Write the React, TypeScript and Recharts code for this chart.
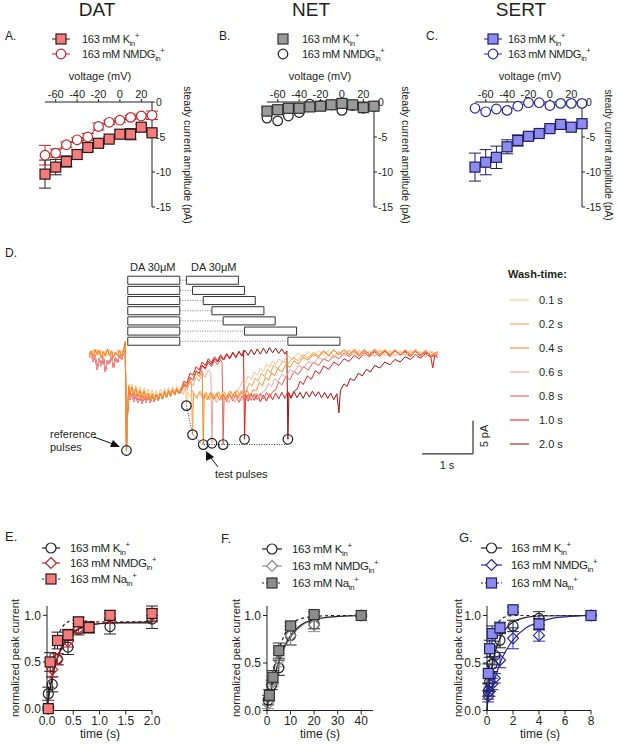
import {
  ComposedChart,
  ErrorBar,
  Line,
  ReferenceArea,
  ReferenceLine,
  Scatter,
  XAxis,
  YAxis,
} from 'recharts'

const FONT = '"Liberation Sans", Arial, Helvetica, sans-serif'
const INK = '#231f20'

// ---------- A–C: steady current vs voltage ----------
const voltages = [-70, -60, -50, -40, -30, -20, -10, 0, 10, 20, 30]
const voltageTicks = [-60, -40, -20, 0, 20]
const currentTicks = [-15, -10, -5, 0]

const datK = [-10.3, -9.3, -8.5, -7.5, -6.5, -5.9, -5.3, -4.6, -4.6, -3.6, -4.4]
const datKErr = [2.0, 1.1, 0.8, 0.7, 0.6, 0.4, 0.3, 0.5, 0.8, 0.4, 0.3]
const datNmdg = [-7.6, -7.3, -6.1, -5.4, -5.0, -3.5, -2.9, -2.6, -2.2, -2.0, -1.9]
const datNmdgErr = [1.4, 0.6, 0.4, 0.3, 0.5, 0.5, 0.3, 0.3, 0.3, 0.3, 0.6]

const netK = [-1.3, -1.1, -0.9, -0.9, -0.7, -0.6, -0.4, -0.2, -0.4, -0.8, -0.6]
const netKErr = [0.5, 0.4, 0.3, 0.3, 0.2, 0.2, 0.2, 0.2, 0.3, 0.4, 0.3]
const netNmdg = [-2.3, -2.7, -2.0, -1.5, -0.3, -0.5, -0.4, -1.2, -0.5, -0.9, -0.6]

const sertK = [-9.3, -8.6, -7.9, -6.4, -5.5, -4.9, -4.5, -3.8, -3.2, -3.6, -3.1]
const sertKErr = [2.0, 1.8, 1.6, 1.0, 0.8, 0.5, 0.3, 0.3, 0.4, 0.3, 0.2]
const sertNmdg = [-0.9, -1.4, -1.0, -1.2, -0.6, -0.1, -0.1, -0.5, -0.2, -0.2, -0.2]

// ---------- D: wash-time traces ----------
const washTimes = [0.1, 0.2, 0.4, 0.6, 0.8, 1.0, 2.0]
const washColors = ['#fcc38c', '#f9a04b', '#f7861f', '#f5a0a0', '#f0584d', '#e31a1c', '#9e0f0f']
const testStartS = [1.91, 2.03, 2.24, 2.41, 2.63, 3.05, 3.9]
const testPeakPA = [-7.9, -12.3, -13.8, -13.6, -13.8, -13.0, -13.0]
const refPulse = { t: 0.735, v: -14.7 }
const firstPulseS = [0.76, 1.78]
const pulseLengthS = 1.02

const preOrange = [
  [0, -0.3], [0.04, 0.4], [0.08, -0.5], [0.12, 0.6], [0.16, -0.2], [0.2, 0.5], [0.24, -0.7], [0.28, 0.3],
  [0.32, -0.4], [0.36, 0.7], [0.4, -0.3], [0.44, 0.4], [0.48, -0.6], [0.52, 0.2], [0.56, -0.3], [0.6, 0.5],
  [0.64, -0.4], [0.68, 0.6], [0.71, 1.8], [0.735, -14.8], [0.75, -9.5], [0.78, -5.0], [0.8, -6.3], [0.84, -5.1],
  [0.88, -6.4], [0.92, -5.3], [0.96, -6.6], [1.0, -5.6], [1.04, -6.8], [1.08, -5.7], [1.12, -6.9], [1.16, -6.0],
  [1.2, -7.0], [1.24, -6.1], [1.28, -7.2], [1.32, -6.2], [1.36, -7.0], [1.4, -6.0], [1.44, -6.9], [1.48, -5.9],
  [1.52, -6.7], [1.56, -5.7], [1.6, -6.5], [1.64, -5.5], [1.68, -6.3], [1.72, -5.4], [1.76, -6.1],
]
const prePeach = [
  [0, 0.2], [0.04, -0.5], [0.08, 0.6], [0.12, -0.2], [0.16, 0.7], [0.2, -0.4], [0.24, 0.5], [0.28, -0.6],
  [0.32, 0.4], [0.36, -0.3], [0.4, 0.6], [0.44, -0.5], [0.48, 0.3], [0.52, -0.4], [0.56, 0.6], [0.6, -0.2],
  [0.64, 0.5], [0.68, -0.1], [0.71, 1.6], [0.735, -14.7], [0.75, -9.0], [0.78, -4.6], [0.8, -5.8], [0.84, -4.6],
  [0.88, -5.9], [0.92, -4.8], [0.96, -6.1], [1.0, -5.0], [1.04, -6.3], [1.08, -5.2], [1.12, -6.4], [1.16, -5.4],
  [1.2, -6.5], [1.24, -5.5], [1.28, -6.6], [1.32, -5.6], [1.36, -6.5], [1.4, -5.4], [1.44, -6.4], [1.48, -5.3],
  [1.52, -6.2], [1.56, -5.1], [1.6, -6.0], [1.64, -5.0], [1.68, -5.8], [1.72, -4.9], [1.76, -5.7],
]
const preRed = [
  [0, -0.6], [0.04, 0.2], [0.08, -1.2], [0.12, -0.3], [0.16, -2.4], [0.2, -0.8], [0.24, -1.9], [0.28, -0.4],
  [0.32, -2.8], [0.36, -1.0], [0.4, -1.6], [0.44, -0.2], [0.48, -2.2], [0.52, -0.6], [0.56, -1.4], [0.6, -0.1],
  [0.64, -0.9], [0.68, 0.3], [0.71, 1.2], [0.735, -14.6], [0.75, -10.0], [0.78, -5.8], [0.8, -7.0], [0.84, -6.0],
  [0.88, -7.3], [0.92, -6.2], [0.96, -7.5], [1.0, -6.4], [1.04, -7.6], [1.08, -6.5], [1.12, -7.4], [1.16, -6.3],
  [1.2, -7.5], [1.24, -6.4], [1.28, -7.3], [1.32, -6.2], [1.36, -7.1], [1.4, -6.0], [1.44, -6.9], [1.48, -5.8],
  [1.52, -6.6], [1.56, -5.6], [1.6, -6.4], [1.64, -5.4], [1.68, -6.2], [1.72, -5.3], [1.76, -6.0],
]

const post01 = [
  [1.8, -5.6], [1.85, -6.2], [1.89, -5.0], [1.91, -7.9], [1.93, -5.8], [1.98, -6.6], [2.04, -5.6], [2.1, -6.7],
  [2.16, -5.8], [2.22, -6.8], [2.28, -5.9], [2.34, -6.9], [2.4, -6.0], [2.46, -6.8], [2.52, -5.8], [2.58, -6.7],
  [2.64, -5.7], [2.7, -6.6], [2.76, -5.6], [2.82, -6.4], [2.88, -5.6], [2.94, -5.4], [3.0, -4.3], [3.06, -4.6],
  [3.12, -3.4], [3.18, -3.9], [3.24, -2.8], [3.3, -3.3], [3.36, -2.2], [3.42, -2.7], [3.48, -1.6], [3.54, -2.1],
  [3.6, -1.1], [3.66, -1.7], [3.72, -0.8], [3.8, -1.3], [3.9, -0.3], [4.0, -0.9], [4.1, 0.1], [4.2, -0.6],
  [4.3, 0.3], [4.4, -0.5], [4.5, 0.4], [4.6, -0.3], [4.7, 0.5], [4.8, -0.4], [4.9, 0.4], [5.0, -0.3],
  [5.1, 0.6], [5.2, -0.2], [5.3, 0.5], [5.4, -0.4], [5.5, 0.4], [5.6, -0.3], [5.7, 0.6], [5.8, -0.2],
  [5.9, 0.5], [6.0, -0.4], [6.1, 0.4], [6.2, -0.3], [6.3, 0.5], [6.4, -0.4], [6.5, 0.3], [6.6, -0.5],
  [6.7, 0.4], [6.84, -0.2],
]
const post02 = [
  [1.8, -5.4], [1.86, -4.6], [1.92, -5.2], [1.98, -3.9], [2.01, -4.6], [2.03, -12.3], [2.05, -6.0], [2.12, -6.8],
  [2.18, -5.7], [2.24, -6.9], [2.3, -5.9], [2.36, -7.0], [2.42, -6.0], [2.48, -6.9], [2.54, -5.8], [2.6, -6.8],
  [2.66, -5.9], [2.72, -6.7], [2.78, -5.7], [2.84, -6.6], [2.9, -5.6], [2.96, -6.4], [3.02, -5.5], [3.08, -5.8],
  [3.14, -4.5], [3.2, -4.9], [3.26, -3.7], [3.32, -4.2], [3.38, -3.0], [3.44, -3.5], [3.5, -2.4], [3.56, -2.9],
  [3.62, -1.8], [3.7, -2.3], [3.8, -1.2], [3.9, -1.6], [4.0, -0.6], [4.1, -1.1], [4.2, -0.2], [4.3, -0.7],
  [4.4, 0.2], [4.5, -0.4], [4.6, 0.5], [4.7, -0.3], [4.8, 0.6], [4.9, -0.2], [5.0, 0.5], [5.1, -0.3],
  [5.2, 0.7], [5.3, -0.1], [5.4, 0.6], [5.5, -0.2], [5.6, 0.5], [5.7, -0.3], [5.8, 0.6], [5.9, -0.1],
  [6.0, 0.5], [6.1, -0.2], [6.2, 0.6], [6.3, -0.3], [6.4, 0.5], [6.5, -0.2], [6.6, 0.4], [6.7, -0.3],
  [6.84, 0.2],
]
const post04 = [
  [1.8, -5.3], [1.86, -4.4], [1.92, -4.9], [1.98, -3.6], [2.04, -4.1], [2.1, -2.9], [2.16, -3.5], [2.22, -2.6],
  [2.24, -13.8], [2.26, -6.2], [2.32, -7.0], [2.38, -5.9], [2.44, -6.9], [2.5, -6.0], [2.56, -7.1], [2.62, -6.1],
  [2.68, -7.0], [2.74, -6.0], [2.8, -6.8], [2.86, -5.8], [2.92, -6.7], [2.98, -5.7], [3.04, -6.6], [3.1, -5.6],
  [3.16, -6.4], [3.22, -5.5], [3.28, -5.6], [3.34, -4.4], [3.4, -4.9], [3.46, -3.6], [3.52, -4.1], [3.58, -2.9],
  [3.64, -3.4], [3.7, -2.3], [3.78, -2.8], [3.86, -1.7], [3.94, -2.1], [4.02, -1.1], [4.1, -1.6], [4.2, -0.6],
  [4.3, -1.0], [4.4, -0.1], [4.5, -0.6], [4.6, 0.3], [4.7, -0.3], [4.8, 0.5], [4.9, -0.2], [5.0, 0.6],
  [5.1, -0.1], [5.2, 0.5], [5.3, -0.3], [5.4, 0.6], [5.5, -0.2], [5.6, 0.7], [5.7, -0.1], [5.8, 0.5],
  [5.9, -0.3], [6.0, 0.6], [6.1, -0.2], [6.2, 0.5], [6.3, -0.1], [6.4, 0.6], [6.5, -0.2], [6.6, 0.5],
  [6.7, -0.3], [6.84, 0.3],
]
const post06 = [
  [1.8, -6.0], [1.86, -5.0], [1.92, -5.6], [1.98, -4.3], [2.04, -4.9], [2.1, -3.6], [2.16, -4.2], [2.22, -3.0],
  [2.28, -3.6], [2.34, -2.5], [2.39, -3.0], [2.41, -13.6], [2.43, -6.5], [2.5, -7.4], [2.56, -6.3], [2.62, -7.3],
  [2.68, -6.4], [2.74, -7.5], [2.8, -6.5], [2.86, -7.4], [2.92, -6.3], [2.98, -7.2], [3.04, -6.2], [3.1, -7.1],
  [3.16, -6.1], [3.22, -6.9], [3.28, -6.0], [3.34, -6.8], [3.4, -5.9], [3.46, -5.6], [3.52, -4.5], [3.58, -5.0],
  [3.64, -3.8], [3.7, -4.3], [3.78, -3.1], [3.86, -3.6], [3.94, -2.4], [4.02, -2.9], [4.1, -1.8], [4.2, -2.2],
  [4.3, -1.2], [4.4, -1.6], [4.5, -0.6], [4.6, -1.0], [4.7, -0.2], [4.8, -0.7], [4.9, 0.2], [5.0, -0.4],
  [5.1, 0.4], [5.2, -0.3], [5.3, 0.5], [5.4, -0.4], [5.5, 0.3], [5.6, -0.5], [5.7, 0.4], [5.8, -0.3],
  [5.9, 0.5], [6.0, -0.4], [6.1, 0.3], [6.2, -0.5], [6.3, 0.4], [6.4, -0.3], [6.5, 0.3], [6.6, -0.6],
  [6.7, 0.2], [6.84, -0.4],
]
const post08 = [
  [1.8, -5.8], [1.86, -4.6], [1.92, -5.0], [1.98, -3.6], [2.04, -4.0], [2.1, -2.6], [2.16, -3.1], [2.22, -1.9],
  [2.28, -2.4], [2.34, -1.4], [2.4, -2.0], [2.46, -1.1], [2.52, -1.7], [2.58, -0.9], [2.61, -1.4], [2.63, -13.8],
  [2.65, -6.4], [2.7, -7.3], [2.76, -6.2], [2.82, -7.2], [2.88, -6.3], [2.94, -7.4], [3.0, -6.4], [3.06, -7.3],
  [3.12, -6.2], [3.18, -7.1], [3.24, -6.1], [3.3, -7.0], [3.36, -6.0], [3.42, -6.9], [3.48, -5.9], [3.54, -6.7],
  [3.6, -5.8], [3.66, -5.5], [3.72, -4.3], [3.78, -4.8], [3.86, -3.5], [3.94, -4.0], [4.02, -2.7], [4.1, -3.2],
  [4.2, -2.0], [4.3, -2.5], [4.4, -1.3], [4.5, -1.8], [4.6, -0.8], [4.7, -1.2], [4.8, -0.3], [4.9, -0.8],
  [5.0, 0.1], [5.1, -0.5], [5.2, 0.3], [5.3, -0.4], [5.4, 0.4], [5.5, -0.3], [5.6, 0.5], [5.7, -0.4],
  [5.8, 0.3], [5.9, -0.5], [6.0, 0.4], [6.1, -0.3], [6.2, 0.2], [6.3, -0.5], [6.4, 0.3], [6.5, -0.4],
  [6.6, 0.2], [6.7, -0.5], [6.84, -0.1],
]
const post10 = [
  [1.8, -5.6], [1.86, -4.2], [1.92, -4.5], [1.98, -3.0], [2.04, -3.3], [2.1, -2.0], [2.16, -2.5], [2.22, -1.3],
  [2.28, -1.8], [2.34, -0.8], [2.4, -1.4], [2.46, -0.5], [2.52, -1.1], [2.58, -0.2], [2.64, -0.9], [2.7, 0.0],
  [2.76, -0.7], [2.82, 0.2], [2.88, -0.6], [2.94, 0.3], [3.0, -0.4], [3.03, 0.5], [3.05, -13.0], [3.07, -6.2],
  [3.12, -7.2], [3.18, -6.1], [3.24, -7.1], [3.3, -6.2], [3.36, -7.3], [3.42, -6.3], [3.48, -7.2], [3.54, -6.1],
  [3.6, -7.0], [3.66, -6.0], [3.72, -6.9], [3.78, -5.9], [3.84, -6.8], [3.9, -5.8], [3.96, -6.6], [4.02, -5.7],
  [4.08, -5.4], [4.14, -4.2], [4.2, -4.7], [4.28, -3.4], [4.36, -3.9], [4.44, -2.6], [4.52, -3.1], [4.6, -1.9],
  [4.7, -2.4], [4.8, -1.3], [4.9, -1.8], [5.0, -0.8], [5.1, -1.2], [5.2, -0.3], [5.3, -0.8], [5.4, 0.1],
  [5.5, -0.5], [5.6, 0.3], [5.7, -0.4], [5.8, 0.4], [5.9, -0.3], [6.0, 0.5], [6.1, -0.2], [6.2, 0.4],
  [6.3, -0.4], [6.4, 0.3], [6.5, -0.3], [6.6, 0.2], [6.7, -0.4], [6.74, -2.2], [6.78, -0.3], [6.84, -0.6],
]
const post20 = [
  [1.8, -5.9], [1.86, -4.8], [1.92, -5.1], [1.98, -3.7], [2.04, -4.0], [2.1, -2.7], [2.16, -3.0], [2.22, -1.8],
  [2.28, -2.2], [2.34, -1.2], [2.4, -1.7], [2.46, -0.8], [2.52, -1.3], [2.58, -0.5], [2.64, -1.0], [2.7, -0.2],
  [2.76, -0.8], [2.82, 0.1], [2.88, -0.6], [2.94, 0.3], [3.0, -0.4], [3.06, 0.5], [3.12, -0.3], [3.18, 0.6],
  [3.24, -0.2], [3.3, 0.7], [3.36, -0.1], [3.42, 0.8], [3.48, 0.0], [3.54, 0.9], [3.6, 0.1], [3.66, 0.8],
  [3.72, 0.0], [3.78, 0.7], [3.84, -0.1], [3.88, 0.4], [3.9, -13.0], [3.92, -6.0], [3.96, -6.8], [4.02, -5.8],
  [4.08, -6.7], [4.14, -5.9], [4.2, -6.8], [4.26, -5.8], [4.32, -6.6], [4.38, -5.7], [4.44, -6.5], [4.5, -5.8],
  [4.56, -6.7], [4.62, -5.9], [4.68, -6.8], [4.74, -6.0], [4.8, -7.0], [4.86, -6.1], [4.9, -9.0], [4.93, -5.6],
  [5.0, -4.6], [5.06, -5.0], [5.12, -3.8], [5.2, -4.1], [5.28, -3.0], [5.36, -3.4], [5.44, -2.4], [5.52, -2.8],
  [5.6, -1.8], [5.7, -2.2], [5.8, -1.3], [5.9, -1.7], [6.0, -0.9], [6.1, -1.3], [6.2, -0.5], [6.3, -0.9],
  [6.4, -0.2], [6.5, -0.7], [6.6, 0.0], [6.7, -0.5], [6.84, -0.1],
]

const traces = [
  [...prePeach, ...post01],
  [...preOrange, ...post02],
  [...preOrange, ...post04],
  [...preRed, ...post06],
  [...preRed, ...post08],
  [...preRed, ...post10],
  [...preRed, ...post20],
]
// orange traces lie on top in the original
const drawOrder = [6, 5, 4, 3, 0, 1, 2]

// ---------- E–G: recovery of peak current ----------
const eK = { t: [0.025, 0.1, 0.2, 0.4, 0.6, 0.8, 1.2, 2.0], v: [0.16, 0.26, 0.53, 0.66, 0.85, 0.87, 0.88, 0.96], e: [0.07, 0.08, 0.06, 0.08, 0.06, 0.05, 0.08, 0.1] }
const eNmdg = { t: [0.025, 0.1, 0.2, 0.4, 0.6, 0.8, 1.2, 2.0], v: [0.0, 0.42, 0.53, 0.72, 0.86, 0.87, 0.97, 1.0], e: [0.02, 0.08, 0.06, 0.06, 0.05, 0.05, 0.05, 0.07] }
const eNa = { t: [0.025, 0.06, 0.2, 0.4, 0.6, 0.8, 1.2, 2.0], v: [0.0, 0.5, 0.73, 0.79, 0.93, 0.87, 1.0, 1.02], e: [0.02, 0.1, 0.09, 0.06, 0.05, 0.06, 0.05, 0.08] }
const eFitK = [[0, 0], [0.05, 0.18], [0.1, 0.33], [0.2, 0.54], [0.3, 0.67], [0.4, 0.76], [0.6, 0.85], [0.8, 0.89], [1.0, 0.91], [1.4, 0.92], [2.0, 0.92]]
const eFitNmdg = [[0, 0], [0.1, 0.36], [0.2, 0.56], [0.3, 0.69], [0.4, 0.77], [0.6, 0.86], [0.8, 0.9], [1.2, 0.92], [2.0, 0.93]]
const eFitNa = [[0, 0], [0.1, 0.52], [0.2, 0.76], [0.3, 0.88], [0.4, 0.93], [0.5, 0.95], [0.7, 0.94], [1.0, 0.93], [2.0, 0.93]]

const fK = { t: [0.5, 2, 5, 10, 20, 40], v: [0.11, 0.27, 0.45, 0.79, 0.91, 1.0], e: [0.05, 0.05, 0.08, 0.1, 0.05, 0.01] }
const fNmdg = { t: [0.5, 2.5, 5, 10, 20, 40], v: [0.07, 0.3, 0.53, 0.79, 0.9, 1.0], e: [0.05, 0.05, 0.07, 0.1, 0.07, 0.0] }
const fNa = { t: [1, 2.5, 5, 10, 20, 40], v: [0.16, 0.35, 0.63, 0.89, 1.01, 1.0], e: [0.06, 0.07, 0.08, 0.04, 0.03, 0.0] }
const fFitK = [[0, 0], [2.5, 0.3], [5, 0.52], [7.5, 0.68], [10, 0.79], [15, 0.91], [20, 0.96], [30, 0.99], [40, 1.0]]
const fFitNmdg = [[0, 0], [2.5, 0.29], [5, 0.5], [7.5, 0.66], [10, 0.77], [15, 0.9], [20, 0.95], [30, 0.99], [40, 1.0]]
const fFitNa = [[0, 0], [2.5, 0.38], [5, 0.63], [7.5, 0.8], [10, 0.9], [15, 0.97], [20, 0.99], [30, 1.0], [40, 1.0]]

const gK = { t: [0.1, 0.2, 0.4, 0.6, 1, 2, 4, 8], v: [0.2, 0.3, 0.49, 0.58, 0.74, 0.89, 0.97, 1.0], e: [0.08, 0.1, 0.08, 0.1, 0.08, 0.06, 0.07, 0.0] }
const gNmdg = { t: [0.1, 0.2, 0.4, 0.6, 1, 2, 4, 8], v: [0.15, 0.2, 0.28, 0.34, 0.53, 0.76, 0.79, 1.0], e: [0.06, 0.05, 0.06, 0.05, 0.08, 0.11, 0.06, 0.0] }
const gNa = { t: [0.1, 0.2, 0.4, 1, 2, 4, 8], v: [0.39, 0.65, 0.81, 0.87, 1.06, 0.91, 1.0], e: [0.1, 0.09, 0.08, 0.06, 0.03, 0.06, 0.0] }
const gFitK = [[0, 0], [0.2, 0.3], [0.4, 0.48], [0.6, 0.6], [1, 0.76], [1.5, 0.87], [2, 0.93], [3, 0.98], [4, 0.995], [8, 1.0]]
const gFitNmdg = [[0.3, 0.2], [0.6, 0.33], [1, 0.5], [1.5, 0.64], [2, 0.74], [3, 0.87], [4, 0.93], [5, 0.97], [6, 0.985], [8, 1.0]]
const gFitNa = [[0, 0], [0.1, 0.3], [0.2, 0.5], [0.4, 0.74], [0.6, 0.86], [1, 0.95], [1.5, 0.99], [2, 1.0], [8, 1.0]]

const recoveryTicksY = [0, 0.5, 1]

type Pair = number[]
type Series = { t: number[]; v: number[]; e: number[] }

const pairsToRows = (pairs: Pair[]) => pairs.map(([t, v]) => ({ t, v }))
const seriesToRows = (s: Series) => s.t.map((t, i) => ({ t, v: s.v[i], e: s.e[i] }))

// ---------- marker shapes ----------
function square(fill: string, stroke: string, size = 10) {
  return (p: any) => (
    <rect key={`s${p.index ?? p.cx}`} x={p.cx - size / 2} y={p.cy - size / 2} width={size} height={size} fill={fill} stroke={stroke} strokeWidth={1.2} />
  )
}
function circle(fill: string, stroke: string, r = 4.8) {
  return (p: any) => <circle key={`c${p.index ?? p.cx}`} cx={p.cx} cy={p.cy} r={r} fill={fill} stroke={stroke} strokeWidth={1.2} />
}
function diamond(stroke: string, r = 5.5) {
  return (p: any) => (
    <polygon
      key={`d${p.index ?? p.cx}`}
      points={`${p.cx},${p.cy - r} ${p.cx + r},${p.cy} ${p.cx},${p.cy + r} ${p.cx - r},${p.cy}`}
      fill="none"
      stroke={stroke}
      strokeWidth={1.2}
    />
  )
}

// ---------- A–C ----------
type IVProps = {
  left: number
  k: number[]
  kErr: number[]
  n: number[]
  nErr?: number[]
  kFill: string
  kStroke: string
  nStroke: string
  nFill: string
  connect: boolean
}

function IVPanel(p: IVProps) {
  const rows = voltages.map((v, i) => ({ v, k: p.k[i], kErr: p.kErr[i], n: p.n[i], nErr: p.nErr ? p.nErr[i] : 0 }))
  return (
    <div style={{ position: 'absolute', left: p.left - 10, top: 102 - 20 }}>
      <ComposedChart width={147} height={135} data={rows} margin={{ top: 0, right: 0, bottom: 10, left: 10 }}>
        <XAxis
          dataKey="v"
          type="number"
          orientation="top"
          domain={[-70, 30]}
          ticks={voltageTicks}
          interval={0}
          height={20}
          tickSize={3}
          tickMargin={1}
          tick={{ fontSize: 11, fill: INK }}
          stroke={INK}
        />
        <YAxis
          type="number"
          orientation="right"
          domain={[-15, 0]}
          ticks={currentTicks}
          interval={0}
          width={30}
          tickSize={3}
          tickMargin={1}
          tick={{ fontSize: 10.5, fill: INK }}
          stroke={INK}
        />
        <Line
          dataKey="n"
          stroke={p.connect ? p.nStroke : 'none'}
          strokeWidth={1}
          dot={circle(p.nFill, p.nStroke)}
          isAnimationActive={false}
        >
          {p.nErr && <ErrorBar dataKey="nErr" direction="y" width={6} stroke={p.nStroke} strokeWidth={1} />}
        </Line>
        <Line
          dataKey="k"
          stroke={p.connect ? p.kStroke : 'none'}
          strokeWidth={1}
          dot={square(p.kFill, p.kStroke)}
          isAnimationActive={false}
        >
          <ErrorBar dataKey="kErr" direction="y" width={6} stroke={p.kStroke} strokeWidth={1} />
        </Line>
      </ComposedChart>
    </div>
  )
}

// ---------- D ----------
const rowTopPA = 11.1
const rowStepPA = 1.54
const rowHeightPA = 1.22

function TracePanel() {
  const peakRows = testStartS.map((t, i) => ({ t, v: testPeakPA[i] }))
  const connector = [...peakRows.slice(0, 3), { t: testStartS[6], v: testPeakPA[2] }]
  return (
    <div style={{ position: 'absolute', left: 79, top: 260.5 }}>
      <ComposedChart width={407.6} height={208.1} margin={{ top: 10, right: 10, bottom: 10, left: 10 }}>
        <XAxis dataKey="t" type="number" domain={[0, 7.6]} allowDataOverflow hide />
        <YAxis type="number" domain={[-16, 12.5]} allowDataOverflow hide />
        {washTimes.map((w, i) => {
          const yc = rowTopPA - i * rowStepPA
          return [
            <ReferenceArea
              key={`l${w}`}
              x1={firstPulseS[0]}
              x2={firstPulseS[1]}
              y1={yc - rowHeightPA / 2}
              y2={yc + rowHeightPA / 2}
              fill="#fff"
              fillOpacity={1}
              stroke="#333"
              strokeWidth={1}
            />,
            <ReferenceLine
              key={`g${w}`}
              segment={[
                { x: firstPulseS[1], y: yc },
                { x: testStartS[i], y: yc },
              ]}
              stroke="#777"
              strokeDasharray="1 1.5"
            />,
            <ReferenceArea
              key={`r${w}`}
              x1={testStartS[i]}
              x2={testStartS[i] + pulseLengthS}
              y1={yc - rowHeightPA / 2}
              y2={yc + rowHeightPA / 2}
              fill="#fff"
              fillOpacity={1}
              stroke="#333"
              strokeWidth={1}
            />,
          ]
        })}
        {drawOrder.map((i) => (
          <Line
            key={washTimes[i]}
            data={pairsToRows(traces[i])}
            dataKey="v"
            stroke={washColors[i]}
            strokeWidth={1}
            dot={false}
            type="linear"
            isAnimationActive={false}
          />
        ))}
        <Line
          data={connector}
          dataKey="v"
          stroke="#333"
          strokeWidth={1}
          strokeDasharray="1 1.5"
          dot={false}
          type="linear"
          isAnimationActive={false}
        />
        <Scatter data={[refPulse, ...peakRows]} dataKey="v" shape={circle('none', '#222', 4.8)} isAnimationActive={false} />
        <ReferenceLine
          segment={[
            { x: 6.53, y: -15.2 },
            { x: 7.53, y: -15.2 },
          ]}
          stroke="#333"
          strokeWidth={1.2}
        />
        <ReferenceLine
          segment={[
            { x: 7.53, y: -15.2 },
            { x: 7.53, y: -10.2 },
          ]}
          stroke="#333"
          strokeWidth={1.2}
        />
      </ComposedChart>
    </div>
  )
}

// ---------- E–G ----------
type Fit = { pairs: Pair[]; stroke: string; dash?: string }
type RecoveryProps = {
  left: number
  width: number
  domain: [number, number]
  ticks: number[]
  fmt: (v: number) => string
  k: Series
  n: Series
  na: Series
  fits: Fit[]
  nColor: string
  naFill: string
  naStroke: string
}

function RecoveryPanel(p: RecoveryProps) {
  return (
    <div style={{ position: 'absolute', left: p.left - 35, top: 595.5 }}>
      <ComposedChart width={35 + p.width + 10} height={144.5} margin={{ top: 10, right: 10, bottom: 0, left: 0 }}>
        <XAxis
          dataKey="t"
          type="number"
          domain={p.domain}
          ticks={p.ticks}
          interval={0}
          tickFormatter={p.fmt}
          height={30}
          tickSize={4}
          tickMargin={2}
          tick={{ fontSize: 12, fill: INK }}
          stroke={INK}
        />
        <YAxis
          type="number"
          domain={[0, 1.1]}
          ticks={recoveryTicksY}
          interval={0}
          tickFormatter={(v: number) => v.toFixed(1)}
          width={35}
          tickSize={4}
          tickMargin={2}
          tick={{ fontSize: 12, fill: INK }}
          stroke={INK}
        />
        {p.fits.map((f, i) => (
          <Line
            key={i}
            data={pairsToRows(f.pairs)}
            dataKey="v"
            type="monotone"
            stroke={f.stroke}
            strokeWidth={1.2}
            strokeDasharray={f.dash}
            dot={false}
            isAnimationActive={false}
          />
        ))}
        <Scatter data={seriesToRows(p.k)} dataKey="v" shape={circle('none', '#222', 5)} isAnimationActive={false}>
          <ErrorBar dataKey="e" direction="y" width={6} stroke="#222" strokeWidth={1} />
        </Scatter>
        <Scatter data={seriesToRows(p.n)} dataKey="v" shape={diamond(p.nColor)} isAnimationActive={false}>
          <ErrorBar dataKey="e" direction="y" width={6} stroke={p.nColor} strokeWidth={1} />
        </Scatter>
        <Scatter data={seriesToRows(p.na)} dataKey="v" shape={square(p.naFill, p.naStroke)} isAnimationActive={false}>
          <ErrorBar dataKey="e" direction="y" width={6} stroke={p.naStroke} strokeWidth={1} />
        </Scatter>
      </ComposedChart>
    </div>
  )
}

// ---------- overlay text ----------
function Ion({ x, y, ion, size = 11 }: { x: number; y: number; ion: string; size?: number }) {
  return (
    <text x={x} y={y} fontSize={size} fill={INK} letterSpacing={-0.3}>
      163 mM {ion}
      <tspan fontSize={size * 0.68} dy={size * 0.25}>
        in
      </tspan>
      <tspan fontSize={size * 0.68} dy={-size * 0.72}>
        +
      </tspan>
    </text>
  )
}

function Overlay() {
  const ivLegend = [
    { sym: 61, text: 82, line: true, kFill: '#f47c7c', kStroke: '#2a1a1a', n: '#c1272d', nFill: '#fff' },
    { sym: 283, text: 302, line: false, kFill: '#9a9a9a', kStroke: '#333', n: '#222', nFill: '#fff' },
    { sym: 493, text: 508, line: true, kFill: '#8c8cf0', kStroke: '#1f1f5f', n: '#2a2a9a', nFill: '#fff' },
  ]
  const recLegend = [
    { x0: 42, x1: 60, text: 70, rows: [548, 563, 579], n: '#c1272d', naFill: '#f47c7c', naStroke: '#2a1a1a' },
    { x0: 262, x1: 282, text: 292, rows: [549, 566, 583], n: '#8a8a8a', naFill: '#8c8c8c', naStroke: '#333' },
    { x0: 481, x1: 502, text: 511, rows: [548, 565, 583], n: '#2828a0', naFill: '#8c8cf0', naStroke: '#1f1f5f' },
  ]
  const washRows = [300, 324, 348, 372, 396, 420, 444]
  const ivLabels = [
    { x: 184, size: 10.5 },
    { x: 402, size: 10.5 },
    { x: 605, size: 10 },
  ]
  return (
    <svg
      width={617}
      height={744}
      style={{ position: 'absolute', left: 0, top: 0, pointerEvents: 'none', fontFamily: FONT }}
    >
      <text x={97} y={16} fontSize={19} textAnchor="middle" fill={INK}>DAT</text>
      <text x={311} y={16} fontSize={19} textAnchor="middle" fill={INK}>NET</text>
      <text x={521} y={16} fontSize={19} textAnchor="middle" fill={INK}>SERT</text>

      <text x={5} y={40} fontSize={12} fill={INK}>A.</text>
      <text x={219} y={40} fontSize={12} fill={INK}>B.</text>
      <text x={426} y={40} fontSize={12} fill={INK}>C.</text>

      {ivLegend.map((l, i) => (
        <g key={i}>
          {l.line && <line x1={l.sym - 9} x2={l.sym + 9} y1={39} y2={39} stroke={l.kStroke} strokeWidth={1} />}
          <rect x={l.sym - 5} y={34} width={10} height={10} fill={l.kFill} stroke={l.kStroke} strokeWidth={1.2} />
          <Ion x={l.text} y={43} ion="K" />
          {l.line && <line x1={l.sym - 9} x2={l.sym + 9} y1={54} y2={54} stroke={l.n} strokeWidth={1} />}
          <circle cx={l.sym} cy={54} r={4.8} fill={l.nFill} stroke={l.n} strokeWidth={1.2} />
          <Ion x={l.text} y={58} ion="NMDG" />
        </g>
      ))}

      {[100, 320, 530].map((x) => (
        <text key={x} x={x} y={80} fontSize={11} textAnchor="middle" fill={INK}>voltage (mV)</text>
      ))}
      {ivLabels.map(({ x, size }) => (
        <text key={x} x={x} y={155} fontSize={size} textAnchor="middle" fill={INK} transform={`rotate(90 ${x} 155)`}>
          steady current amplitude (pA)
        </text>
      ))}

      <text x={5} y={257} fontSize={12} fill={INK}>D.</text>
      <text x={130} y={271} fontSize={11} fill={INK}>DA 30μM</text>
      <text x={191} y={271} fontSize={11} fill={INK}>DA 30μM</text>

      <text x={508} y={278} fontSize={11} fontWeight="bold" fill={INK}>Wash-time:</text>
      {washTimes.map((w, i) => (
        <g key={w}>
          <line x1={510} x2={529} y1={washRows[i]} y2={washRows[i]} stroke={washColors[i]} strokeOpacity={0.7} strokeWidth={1.5} />
          <text x={539} y={washRows[i] + 4} fontSize={11} fill={INK}>{`${w.toFixed(1)} s`}</text>
        </g>
      ))}

      <text x={50} y={438} fontSize={11} fill={INK}>reference</text>
      <text x={50} y={451} fontSize={11} fill={INK}>pulses</text>
      <line x1={94} y1={437} x2={113} y2={444} stroke="#111" strokeWidth={1} />
      <polygon points="120,447 110,447 113,440" fill="#111" />
      <text x={215} y={478} fontSize={11} fill={INK}>test pulses</text>
      <line x1={218} y1={467} x2={211} y2={458} stroke="#111" strokeWidth={1} />
      <polygon points="206,451 206,461 214,457" fill="#111" />

      <text x={447} y={469} fontSize={11} textAnchor="middle" fill={INK}>1 s</text>
      <text x={488} y={436} fontSize={11} textAnchor="middle" fill={INK} transform="rotate(-90 488 436)">5 pA</text>

      <text x={5} y={541} fontSize={13} fill={INK}>E.</text>
      <text x={221} y={543} fontSize={13} fill={INK}>F.</text>
      <text x={459} y={542} fontSize={13} fill={INK}>G.</text>

      {recLegend.map((l, i) => {
        const c = (l.x0 + l.x1) / 2
        const [r1, r2, r3] = l.rows
        return (
          <g key={i}>
            <line x1={l.x0} x2={l.x1} y1={r1} y2={r1} stroke="#222" strokeWidth={1.2} />
            <circle cx={c} cy={r1} r={5} fill="#fff" stroke="#222" strokeWidth={1.2} />
            <Ion x={l.text} y={r1 + 4} ion="K" size={11.5} />
            <line x1={l.x0} x2={l.x1} y1={r2} y2={r2} stroke={l.n} strokeWidth={1.2} />
            <polygon points={`${c},${r2 - 5.5} ${c + 5.5},${r2} ${c},${r2 + 5.5} ${c - 5.5},${r2}`} fill="#fff" stroke={l.n} strokeWidth={1.2} />
            <Ion x={l.text} y={r2 + 4} ion="NMDG" size={11.5} />
            <line x1={l.x0} x2={l.x1} y1={r3} y2={r3} stroke="#222" strokeWidth={1.2} strokeDasharray="2 2" />
            <rect x={c - 5} y={r3 - 5} width={10} height={10} fill={l.naFill} stroke={l.naStroke} strokeWidth={1.2} />
            <Ion x={l.text} y={r3 + 4} ion="Na" size={11.5} />
          </g>
        )
      })}

      {[100, 320, 540].map((x) => (
        <text key={x} x={x} y={738} fontSize={12} textAnchor="middle" fill={INK}>time (s)</text>
      ))}
      {[19, 240, 462].map((x) => (
        <text key={x} x={x} y={658} fontSize={11} textAnchor="middle" fill={INK} transform={`rotate(-90 ${x} 658)`}>
          normalized peak current
        </text>
      ))}
    </svg>
  )
}

export default function App() {
  return (
    <div style={{ position: 'relative', width: 617, height: 744, background: '#fff', fontFamily: FONT, color: INK }}>
      <style>{'body{margin:0}'}</style>
      <IVPanel left={45} k={datK} kErr={datKErr} n={datNmdg} nErr={datNmdgErr} kFill="#f47c7c" kStroke="#2a1a1a" nStroke="#c1272d" nFill="#fff" connect />
      <IVPanel left={267} k={netK} kErr={netKErr} n={netNmdg} kFill="#9a9a9a" kStroke="#333" nStroke="#222" nFill="#fff" connect={false} />
      <IVPanel left={475} k={sertK} kErr={sertKErr} n={sertNmdg} kFill="#8c8cf0" kStroke="#1f1f5f" nStroke="#2a2a9a" nFill="#fff" connect />
      <TracePanel />
      <RecoveryPanel
        left={47}
        width={105}
        domain={[0, 2]}
        ticks={[0, 0.5, 1, 1.5, 2]}
        fmt={(v) => v.toFixed(1)}
        k={eK}
        n={eNmdg}
        na={eNa}
        fits={[
          { pairs: eFitNmdg, stroke: '#c1272d' },
          { pairs: eFitK, stroke: '#222' },
          { pairs: eFitNa, stroke: '#222', dash: '3 3' },
        ]}
        nColor="#c1272d"
        naFill="#f47c7c"
        naStroke="#2a1a1a"
      />
      <RecoveryPanel
        left={267}
        width={106}
        domain={[0, 45]}
        ticks={[0, 10, 20, 30, 40]}
        fmt={(v) => String(v)}
        k={fK}
        n={fNmdg}
        na={fNa}
        fits={[
          { pairs: fFitNmdg, stroke: '#8a8a8a' },
          { pairs: fFitK, stroke: '#222' },
          { pairs: fFitNa, stroke: '#222', dash: '3 3' },
        ]}
        nColor="#8a8a8a"
        naFill="#8c8c8c"
        naStroke="#333"
      />
      <RecoveryPanel
        left={487}
        width={104}
        domain={[0, 8]}
        ticks={[0, 2, 4, 6, 8]}
        fmt={(v) => String(v)}
        k={gK}
        n={gNmdg}
        na={gNa}
        fits={[
          { pairs: gFitNmdg, stroke: '#2828a0' },
          { pairs: gFitK, stroke: '#222' },
          { pairs: gFitNa, stroke: '#222', dash: '3 3' },
        ]}
        nColor="#2828a0"
        naFill="#8c8cf0"
        naStroke="#1f1f5f"
      />
      <Overlay />
    </div>
  )
}
